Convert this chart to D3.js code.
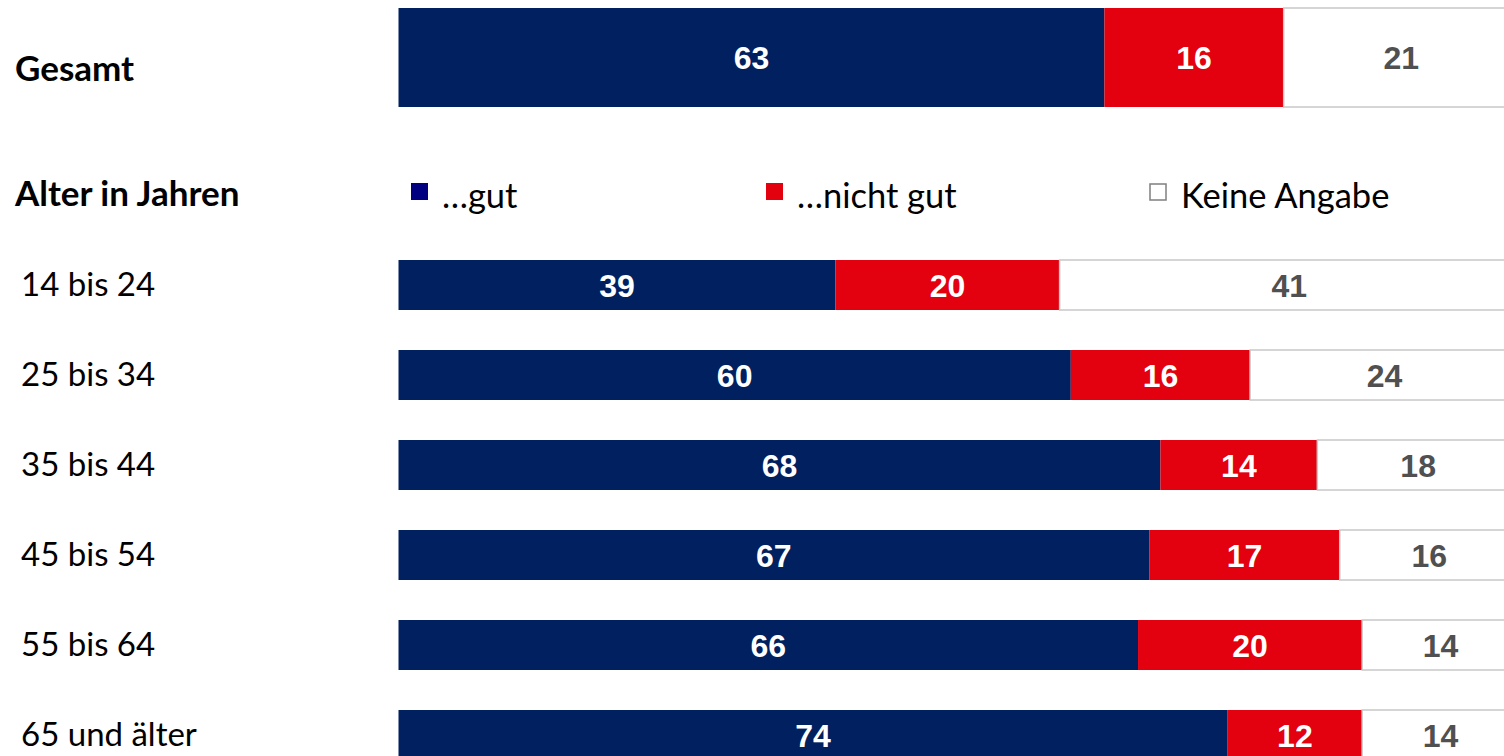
<!DOCTYPE html>
<html>
<head>
<meta charset="utf-8">
<script src="https://cdn.jsdelivr.net/npm/d3@7"></script>
<style>
  html, body { margin: 0; padding: 0; background: #fff; }
  svg { display: block; }
</style>
</head>
<body>
<svg id="chart" width="1504" height="756"></svg>
<script>
// Survey shares in percent: rated "…gut", "…nicht gut", "Keine Angabe"
const seriesNames = ["…gut", "…nicht gut", "Keine Angabe"];
const totalLabel = "Gesamt";
const totalValues = [63, 16, 21];

const groupTitle = "Alter in Jahren";
const ageGroups = ["14 bis 24", "25 bis 34", "35 bis 44", "45 bis 54", "55 bis 64", "65 und älter"];
const gutValues = [39, 60, 68, 67, 66, 74];
const nichtGutValues = [20, 16, 14, 17, 20, 12];
const keineAngabeValues = [41, 24, 18, 16, 14, 14];

const colors = ["#002060", "#e3000f", "#ffffff"];
const legendColors = ["#000080", "#e3000f", "#ffffff"];
const textColors = ["#ffffff", "#ffffff", "#505050"];

const svg = d3.select("#chart");
const labelFont = "Lato, 'Open Sans', sans-serif";
const valueFont = "'Liberation Sans', Arial, sans-serif";

const x = d3.scaleLinear().domain([0, 100]).range([398.5, 1519]);

const y = d3.scaleBand()
  .domain(ageGroups)
  .range([260, 760])
  .paddingInner(40 / 90)
  .paddingOuter(0);

function stack(values) {
  let acc = 0;
  return values.map((v, i) => {
    const seg = { i, v, x0: acc, x1: acc + v };
    acc += v;
    return seg;
  });
}

function drawBar(g, values, top, height) {
  const segs = stack(values);
  g.selectAll("rect.seg")
    .data(segs)
    .join("rect")
    .attr("class", "seg")
    .attr("x", d => x(d.x0))
    .attr("y", top)
    .attr("width", d => x(d.x1) - x(d.x0))
    .attr("height", height)
    .attr("fill", d => colors[d.i])
    .attr("stroke", d => d.i === 2 ? "#c8c8c8" : "none")
    .attr("stroke-width", 1.5);

  g.selectAll("text.val")
    .data(segs)
    .join("text")
    .attr("class", "val")
    .attr("x", d => (x(d.x0) + x(Math.min(d.x1, 100))) / 2)
    .attr("y", top + height / 2 + 11.5)
    .attr("text-anchor", "middle")
    .attr("font-family", valueFont)
    .attr("font-weight", "bold")
    .attr("font-size", 32)
    .attr("fill", d => textColors[d.i])
    .text(d => d.v);
}

// Total row
const totalG = svg.append("g");
drawBar(totalG, totalValues, 8, 99);
svg.append("text")
  .attr("x", 15).attr("y", 81)
  .attr("font-family", labelFont).attr("font-weight", "bold")
  .attr("font-size", 35).attr("fill", "#000")
  .text(totalLabel);

// Group title
svg.append("text")
  .attr("x", 15).attr("y", 206)
  .attr("font-family", labelFont).attr("font-weight", "bold")
  .attr("font-size", 35).attr("fill", "#000")
  .text(groupTitle);

// Legend
const legendX = [411, 766, 1150];
const legend = svg.append("g");
seriesNames.forEach((name, i) => {
  legend.append("rect")
    .attr("x", legendX[i]).attr("y", i === 2 ? 184 : 183)
    .attr("width", i === 2 ? 16 : 17).attr("height", i === 2 ? 16 : 17)
    .attr("fill", legendColors[i])
    .attr("stroke", i === 2 ? "#7f7f7f" : "none")
    .attr("stroke-width", 1.5);
  legend.append("text")
    .attr("x", legendX[i] + 31).attr("y", 208)
    .attr("font-family", labelFont)
    .attr("font-size", 34.5).attr("fill", "#000")
    .text(name);
});

// Age rows
const rows = svg.selectAll("g.row")
  .data(ageGroups.map((a, k) => ({ a, vals: [gutValues[k], nichtGutValues[k], keineAngabeValues[k]] })))
  .join("g")
  .attr("class", "row");

rows.each(function(d) {
  const g = d3.select(this);
  drawBar(g, d.vals, y(d.a), y.bandwidth());
  g.append("text")
    .attr("x", 21)
    .attr("y", y(d.a) + y.bandwidth() / 2 + 11)
    .attr("font-family", labelFont)
    .attr("font-size", 33)
    .attr("fill", "#000")
    .text(d.a);
});
</script>
</body>
</html>
